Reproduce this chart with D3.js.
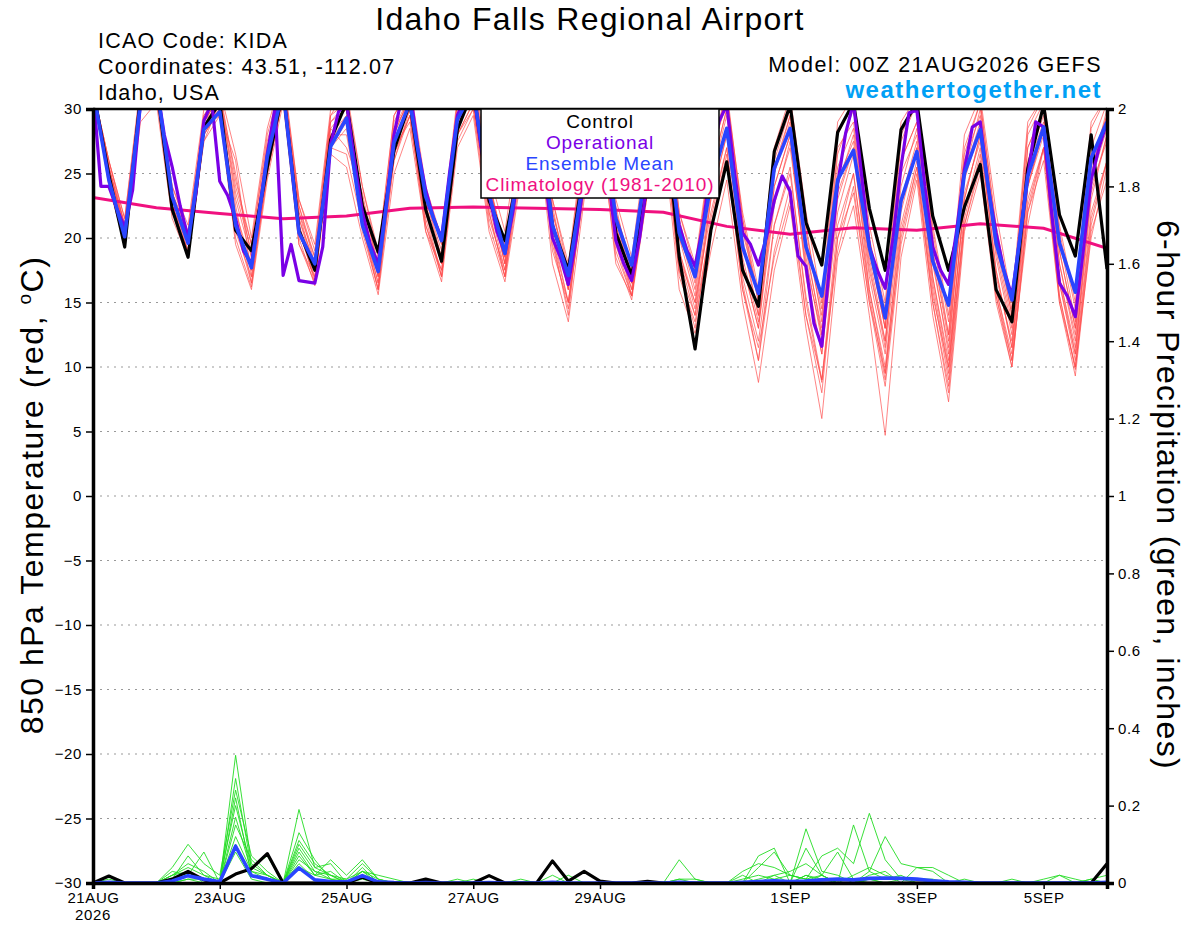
<!DOCTYPE html>
<html>
<head>
<meta charset="utf-8">
<script src="https://cdn.jsdelivr.net/npm/d3@7"></script>
<style>
  body { margin: 0; background: #fff; }
  text { font-family: "Liberation Sans", Arial, Helvetica, sans-serif; }
</style>
</head>
<body>
<svg id="chart" width="1200" height="927"></svg>
<script>
// ---- data (6-hourly from 00Z 21AUG2026, operational is 3-hourly) ----
const tempTicks = [-30, -25, -20, -15, -10, -5, 0, 5, 10, 15, 20, 25, 30];
const precipTicks = [0, 0.2, 0.4, 0.6, 0.8, 1, 1.2, 1.4, 1.6, 1.8, 2];
const dateTicks = ["2026-08-21", "2026-08-23", "2026-08-25", "2026-08-27",
                   "2026-08-29", "2026-09-01", "2026-09-03", "2026-09-05"];

const controlTemp = [
  31.5,24.9,19.3,31.0, 32.0,22.2,18.5,28.6, 30.5,20.6,19.0,25.5, 31.5,20.6,17.5,27.6,
  30.5,22.5,18.9,26.8, 30.5,22.2,18.2,28.4, 31.5,22.9,19.8,26.0, 31.0,20.9,17.5,25.5,
  31.0,20.4,17.1,24.2, 31.0,18.5,11.4,20.6, 25.9,17.5,14.7,26.7, 30.3,21.2,17.9,28.2,
  30.5,22.3,17.5,28.4, 30.5,21.7,17.5,22.4, 25.7,16.0,13.5,25.4, 30.3,21.8,18.6,28.0,
  17.6];

const meanTemp = [
  31.5,24.5,20.1,30.5, 32.0,23.2,19.6,28.4, 29.8,21.0,17.7,26.3, 31.5,20.4,18.0,27.1,
  29.3,21.0,17.4,27.4, 30.5,23.2,19.8,29.2, 31.5,23.4,18.8,26.5, 31.0,21.0,17.1,25.0,
  31.0,21.5,17.9,26.3, 31.0,20.4,17.0,24.2, 28.5,19.3,15.7,25.4, 28.5,19.3,15.5,24.5,
  26.8,19.3,13.8,22.9, 26.7,18.2,14.8,25.0, 28.4,19.6,15.2,24.8, 28.6,19.6,15.8,26.2,
  29.0];

// operational, every 3 hours
const opTemp = [
  31.5,24.0, 24.0,22.3, 20.8,23.7, 30.5,32.0, 32.0,28.0, 25.5,22.5, 20.0,23.5, 29.1,30.5,
  24.4,23.3, 21.5,19.0, 18.0,22.0, 26.5,30.2, 17.1,19.5, 16.7,16.6, 16.5,19.3, 27.3,29.8,
  30.5,26.0, 22.0,19.5, 18.0,22.5, 28.0,31.0, 31.5,27.0, 23.7,21.5, 20.0,25.0, 29.5,31.0,
  31.5,27.0, 23.4,20.5, 18.8,22.0, 26.5,30.0, 31.0,25.0, 20.0,18.5, 16.4,20.0, 24.6,29.0,
  31.0,25.0, 19.8,18.0, 16.7,20.0, 24.6,29.0, 31.0,25.0, 21.0,19.0, 17.8,21.0, 25.5,29.0,
  30.3,25.0, 20.4,19.5, 17.9,20.0, 22.9,24.8, 23.6,18.6, 17.8,13.4, 11.6,18.0, 24.2,28.1,
  30.5,25.0, 19.3,17.5, 16.1,20.0, 25.5,29.7, 29.9,24.0, 19.3,17.5, 16.4,20.5, 25.3,28.6,
  29.0,24.0, 20.4,17.5, 15.5,20.0, 24.8,29.0, 28.6,22.0, 16.5,15.5, 13.9,19.0, 24.5,27.0,
  29.0];

// climatology, once a day at 00Z
const climTemp = [23.15, 22.35, 21.9, 21.5, 21.7, 22.3, 22.4, 22.3, 22.2,
                  22.0, 20.9, 20.3, 20.8, 20.6, 21.1, 20.75, 19.2];

const memberTemps = [
  [31.5,25.5,20.5,31.5, 32.5,23.5,20.5,29.5, 31.0,24.0,19.5,27.5, 32.0,22.0,18.5,29.0,
   30.5,23.0,18.0,28.5, 31.0,23.0,19.0,30.0, 32.0,24.0,19.5,28.0, 32.0,22.0,17.0,26.0,
   31.0,22.0,17.5,27.0, 31.0,20.0,17.0,25.0, 30.0,21.0,15.0,26.0, 30.0,20.0,14.0,27.0,
   29.0,19.0,13.0,26.0, 29.0,19.0,12.0,25.0, 30.0,20.0,14.0,27.0, 30.0,19.0,13.0,25.0, 30.0],
  [31.5,25.0,21.0,30.5, 33.0,22.5,19.5,28.5, 30.5,21.0,17.5,26.0, 31.5,20.5,17.0,28.0,
   28.0,21.5,16.5,27.0, 30.0,21.0,17.5,28.5, 31.0,22.0,17.0,27.0, 31.5,20.5,15.0,25.0,
   30.5,20.0,16.0,25.5, 30.5,19.0,14.5,23.0, 28.0,18.0,13.0,24.0, 28.0,17.0,11.0,23.0,
   27.0,16.0,9.5,22.0, 27.0,17.0,10.0,23.0, 28.0,17.0,12.0,24.0, 28.5,17.0,11.0,23.0, 28.0],
  [31.5,26.0,21.5,32.0, 32.0,24.0,21.0,30.0, 31.5,26.5,20.0,28.5, 33.0,23.0,19.5,30.0,
   31.0,24.0,19.0,29.5, 32.0,24.0,20.0,31.0, 33.0,25.0,20.5,29.0, 33.0,23.0,18.0,28.0,
   33.0,23.0,18.5,28.0, 33.0,22.0,18.0,27.0, 31.0,22.0,16.0,27.0, 31.0,22.0,15.0,29.0,
   31.0,21.0,15.0,29.0, 31.0,21.0,14.0,28.0, 31.0,22.0,15.0,29.0, 31.0,21.0,15.0,29.0, 31.0],
  [31.5,24.0,19.5,29.0, 30.5,21.5,18.5,27.5, 29.5,19.5,16.0,24.5, 30.5,19.5,16.5,26.5,
   25.5,20.0,15.6,25.0, 28.5,20.5,16.6,27.0, 29.5,20.5,16.6,24.5, 29.5,18.0,13.5,23.0,
   28.5,18.5,15.2,23.5, 28.0,16.0,12.6,19.0, 24.5,15.0,8.8,17.5, 22.5,13.0,6.0,18.5,
   22.5,14.0,4.7,18.5, 24.5,14.0,7.3,20.5, 25.0,15.0,10.0,22.0, 26.0,15.0,9.3,20.5, 24.5],
  [31.5,25.0,20.0,30.0, 31.5,22.0,19.0,28.0, 30.0,22.5,16.5,25.0, 31.0,21.0,16.5,27.0,
   29.0,22.5,17.0,26.5, 29.5,22.0,18.0,29.0, 31.5,23.0,18.0,26.0, 30.5,21.0,16.0,24.5,
   29.5,21.0,16.5,26.0, 29.5,18.5,15.0,22.0, 27.0,17.0,12.0,21.0, 25.0,15.5,9.0,21.0,
   25.0,16.0,10.0,21.0, 26.0,16.0,9.0,22.0, 27.0,16.0,11.0,23.0, 27.0,16.5,10.5,22.0, 26.0],
  [31.5,26.0,21.0,31.0, 32.0,23.0,20.0,29.0, 31.0,25.0,18.5,27.0, 32.0,22.5,18.0,28.5,
   27.0,23.5,17.5,28.5, 30.5,22.5,18.5,29.5, 32.5,24.5,18.5,28.5, 32.5,22.5,16.5,27.0,
   32.0,22.5,17.0,27.5, 32.0,21.5,16.5,26.0, 31.0,21.5,15.5,25.5, 29.5,21.0,13.5,26.5,
   30.0,20.0,13.0,27.5, 30.5,20.0,12.5,27.0, 30.5,21.0,14.5,28.0, 30.5,20.0,13.5,27.0, 30.5],
  [31.5,24.5,20.0,30.5, 33.0,23.0,19.5,28.5, 30.0,20.0,16.2,25.5, 31.0,20.0,16.3,27.5,
   29.5,20.5,16.0,27.0, 29.0,21.5,17.0,28.0, 30.5,21.5,17.5,25.5, 31.0,19.5,14.5,24.0,
   30.0,19.0,15.5,24.0, 29.0,17.0,13.5,20.5, 26.0,16.0,10.5,19.0, 24.0,14.0,8.0,20.0,
   23.5,15.0,8.5,19.5, 25.0,15.0,8.0,21.0, 26.0,15.5,10.5,22.5, 27.0,15.5,10.0,21.5, 26.0],
  [31.5,25.5,21.0,31.0, 32.0,24.0,20.5,29.0, 31.0,23.5,19.0,27.0, 32.5,22.5,18.5,29.5,
   30.5,22.0,17.5,29.0, 31.5,23.5,19.5,30.5, 32.0,24.5,19.0,28.0, 32.0,22.0,17.5,27.0,
   32.0,22.0,18.0,27.0, 32.0,22.0,17.5,26.5, 30.5,20.5,15.5,25.0, 29.5,19.5,12.5,24.0,
   28.0,18.5,12.0,24.0, 28.5,18.5,11.0,25.0, 29.0,19.0,13.0,26.0, 29.5,18.0,12.5,25.5, 29.5],
  [31.5,25.0,20.5,31.0, 32.0,22.5,19.5,28.5, 29.5,26.0,17.0,26.0, 31.5,21.5,17.5,28.0,
   29.5,21.0,16.5,26.0, 30.0,22.0,17.0,28.0, 30.0,22.5,17.5,27.0, 31.0,20.0,14.0,25.0,
   30.0,20.5,15.5,25.0, 30.0,18.5,14.0,23.0, 28.0,18.0,13.0,22.5, 27.5,17.5,11.0,22.0,
   26.5,17.0,11.0,22.5, 27.0,16.5,9.5,23.5, 27.5,17.5,11.5,24.0, 28.0,16.5,11.0,24.0, 27.5],
  [31.5,26.0,21.5,31.5, 32.5,23.5,20.0,29.5, 31.5,24.5,19.5,28.0, 32.5,23.0,19.0,29.5,
   31.5,24.0,18.5,29.5, 31.5,23.5,19.5,30.5, 32.5,24.0,19.0,28.5, 32.5,23.0,17.5,27.5,
   32.5,21.5,17.0,27.5, 32.5,21.0,17.5,26.5, 31.5,21.5,15.0,26.5, 30.5,20.5,14.5,28.0,
   30.5,20.0,14.5,28.0, 30.5,20.5,13.5,26.5, 30.5,20.5,14.0,28.5, 31.0,20.5,14.5,28.5, 31.0],
  [31.5,24.5,20.0,30.0, 31.0,22.0,19.0,27.5, 30.5,20.5,17.0,25.0, 31.0,19.5,17.0,27.0,
   26.5,21.0,16.0,26.0, 29.5,20.5,17.5,27.5, 30.0,21.0,17.0,25.0, 30.0,19.0,15.0,23.5,
   29.0,18.0,15.5,23.5, 28.5,17.5,14.0,21.0, 26.5,16.0,11.5,18.5, 23.0,14.0,9.0,19.0,
   24.0,15.0,9.5,20.0, 25.5,15.5,10.0,21.0, 25.5,16.0,10.5,21.0, 27.0,15.0,10.0,20.0, 25.5],
  [31.5,25.5,21.0,31.0, 32.5,23.0,20.0,29.0, 30.5,22.0,18.0,26.5, 31.5,22.0,17.5,28.5,
   30.0,23.0,17.5,28.0, 31.0,22.5,18.0,29.0, 31.0,23.0,18.5,27.0, 31.5,21.5,16.0,26.0,
   31.0,21.0,16.5,26.0, 31.0,20.0,15.5,24.5, 29.5,19.5,14.0,24.0, 28.0,18.5,12.0,24.5,
   27.5,18.0,11.5,25.0, 28.0,18.0,11.5,24.5, 28.5,18.5,12.5,25.5, 29.0,18.0,12.0,24.5, 28.5],
  [31.5,25.0,20.5,30.5, 32.0,23.0,19.0,28.0, 30.0,21.5,17.5,25.5, 31.5,21.0,17.5,27.5,
   29.0,22.0,17.0,27.5, 30.5,22.0,18.0,29.0, 31.0,23.5,18.0,27.5, 31.5,21.0,16.5,25.5,
   30.5,20.5,16.0,25.0, 30.5,19.0,15.0,23.5, 28.5,18.5,13.5,23.0, 27.0,18.0,12.5,23.5,
   27.0,17.5,12.0,23.0, 27.5,17.0,10.5,23.0, 28.0,17.5,11.5,24.0, 28.5,17.0,11.5,23.5, 28.0],
  [31.5,25.5,20.5,31.0, 32.5,23.5,20.0,29.0, 31.0,23.0,18.5,27.0, 32.0,21.5,18.0,29.0,
   30.0,22.5,17.0,28.0, 31.0,23.0,18.5,29.5, 32.0,23.5,18.0,27.5, 32.0,21.5,16.0,26.5,
   31.5,21.5,16.5,26.5, 31.5,20.5,16.0,25.0, 30.0,20.0,14.0,25.0, 29.0,19.0,13.0,25.5,
   28.5,19.0,13.0,26.0, 29.0,19.0,12.5,26.0, 29.5,19.5,13.5,27.0, 30.0,19.0,13.0,26.0, 29.5],
  [31.5,24.5,19.5,30.0, 31.5,22.5,19.0,28.0, 30.0,21.0,16.5,25.0, 31.0,20.5,16.8,27.0,
   28.5,21.0,16.0,26.5, 29.5,21.0,17.0,28.0, 30.5,22.0,17.0,26.0, 30.5,20.0,15.0,24.0,
   29.5,19.5,15.5,24.0, 29.0,17.5,13.0,21.5, 27.0,16.5,10.5,21.0, 25.5,15.0,8.8,20.0,
   25.0,15.5,9.0,20.5, 25.5,15.0,8.5,21.5, 26.5,15.5,10.0,22.0, 27.0,15.5,9.8,21.0, 26.0]
];

const controlPrecip = [
  0,0.018,0,0, 0,0.01,0.03,0.008, 0,0.023,0.037,0.076, 0,0,0,0,
  0,0.015,0,0, 0,0.01,0,0, 0,0.019,0,0, 0,0.057,0.005,0.03,
  0.005,0,0,0.004, 0,0,0,0, 0,0,0,0, 0,0,0,0,
  0,0,0,0, 0,0,0,0, 0,0,0,0, 0,0,0,0,
  0.05];

const meanPrecip = [
  0,0.002,0,0, 0,0.005,0.019,0.01, 0.003,0.095,0.019,0.01, 0,0.039,0.008,0.004,
  0.003,0.019,0.003,0.001, 0,0.001,0,0, 0,0.001,0,0, 0,0.002,0,0,
  0,0,0,0, 0,0.002,0,0, 0,0.002,0.004,0.006, 0.004,0.005,0.008,0.01,
  0.008,0.012,0.013,0.012, 0.01,0.006,0.003,0.002, 0,0,0,0, 0,0,0,0,
  0.002];

const memberPrecip = [
  [0,0,0,0, 0,0.02,0.05,0.03, 0,0.33,0.05,0.02, 0,0.08,0.02,0.01,
   0,0.02,0,0, 0,0,0,0, 0,0,0,0, 0,0,0,0,
   0,0,0,0, 0,0.01,0,0, 0,0,0,0.02, 0,0.14,0.03,0.02,
   0,0.01,0,0, 0,0,0,0, 0,0,0,0, 0,0,0,0, 0],
  [0,0,0,0, 0,0.04,0.1,0.05, 0.02,0.24,0.07,0.03, 0,0.19,0.04,0.02,
   0.01,0.05,0.01,0, 0,0,0,0.01, 0,0,0,0, 0,0,0,0,
   0,0,0,0, 0,0,0,0, 0,0,0.04,0.08, 0.02,0.01,0.07,0.09,
   0.05,0.18,0.06,0.01, 0.01,0,0,0, 0,0,0,0, 0,0,0,0.01, 0],
  [0,0.01,0,0, 0,0.01,0.07,0.02, 0.01,0.2,0.04,0.07, 0,0.13,0.06,0.01,
   0.01,0.03,0,0, 0,0,0,0, 0.01,0,0,0, 0,0,0.02,0,
   0,0,0,0, 0,0.06,0.01,0, 0,0.02,0,0, 0,0.02,0.01,0,
   0.15,0.03,0.01,0.02, 0,0,0,0, 0,0,0,0, 0,0,0,0, 0],
  [0,0,0,0, 0,0.03,0.02,0.08, 0,0.17,0.03,0.02, 0,0.1,0.04,0.05,
   0,0.02,0,0, 0,0.01,0,0, 0,0,0,0, 0,0,0,0,
   0,0,0,0, 0,0,0,0, 0,0.03,0.05,0.04, 0.02,0.01,0,0,
   0,0.03,0.12,0.05, 0.04,0.04,0.02,0, 0,0,0,0, 0,0,0,0, 0],
  [0,0,0,0, 0,0.01,0.03,0.01, 0,0.15,0.06,0.02, 0,0.07,0.02,0.06,
   0.02,0.06,0.01,0, 0,0,0,0, 0,0,0,0, 0,0,0,0,
   0,0,0,0, 0,0,0,0, 0,0,0,0, 0,0,0,0,
   0,0,0,0.01, 0,0,0,0, 0,0,0.01,0, 0.01,0.02,0.01,0, 0],
  [0,0,0,0, 0,0.02,0.04,0.02, 0,0.12,0.03,0.01, 0,0.06,0.03,0.02,
   0,0.03,0.02,0.01, 0,0,0,0, 0,0,0,0, 0,0.02,0,0,
   0,0,0,0, 0,0,0,0, 0,0,0,0, 0,0.09,0.02,0,
   0,0.02,0.03,0, 0.04,0.03,0,0, 0,0,0,0, 0,0,0,0, 0],
  [0,0,0,0, 0,0,0.01,0, 0,0.1,0.02,0.01, 0,0.05,0.01,0,
   0,0.01,0,0, 0,0,0,0, 0,0,0,0, 0,0,0,0,
   0,0,0,0, 0,0,0,0, 0,0,0.07,0.09, 0,0.02,0,0,
   0,0,0,0, 0,0,0,0, 0,0,0,0, 0,0.02,0,0.01, 0.02],
  [0,0,0,0, 0,0.01,0.02,0.01, 0,0.08,0.01,0, 0,0.04,0.02,0.03,
   0,0.02,0,0, 0,0,0,0, 0,0,0,0, 0,0,0,0,
   0,0,0,0, 0,0.01,0.01,0, 0,0.01,0.02,0.01, 0.02,0.01,0.02,0,
   0.02,0.04,0.02,0.01, 0.01,0.01,0,0.01, 0,0,0,0, 0,0,0,0, 0],
  [0,0,0,0, 0,0,0.01,0.01, 0,0.27,0.04,0.02, 0,0.09,0.03,0.01,
   0,0.03,0.01,0, 0,0,0,0, 0,0,0,0.01, 0,0,0,0,
   0,0,0,0, 0,0,0,0, 0,0,0,0, 0,0,0.02,0.08,
   0.01,0,0,0, 0,0,0,0, 0,0,0,0, 0,0,0,0, 0],
  [0,0,0,0, 0,0.02,0.03,0, 0,0.22,0.02,0.01, 0,0.11,0.05,0.02,
   0,0.04,0,0, 0,0,0,0, 0,0,0,0, 0,0,0,0,
   0,0,0,0, 0,0,0,0, 0,0,0.01,0.02, 0.03,0.05,0.02,0,
   0,0.01,0,0, 0,0,0,0, 0,0,0,0, 0,0,0,0, 0]
];

// ---- layout ----
const plotL = 93, plotR = 1107, plotT = 109, plotB = 883;
const svg = d3.select("#chart");

const base = Date.UTC(2026, 7, 21);
const hourToDate = h => new Date(base + h * 3600e3);
const x = d3.scaleUtc().domain([hourToDate(0), hourToDate(384)]).range([plotL, plotR]);
const yT = d3.scaleLinear().domain([-30, 30]).range([plotB, plotT]);
const yP = d3.scaleLinear().domain([0, 2]).range([plotB, plotT]);

svg.append("defs").append("clipPath").attr("id", "plotclip")
  .append("rect").attr("x", plotL).attr("y", plotT)
  .attr("width", plotR - plotL).attr("height", plotB - plotT);

// dotted grid at the temperature ticks
svg.append("g").selectAll("line")
  .data(tempTicks.filter(d => d > -30 && d < 30))
  .join("line")
  .attr("x1", plotL).attr("x2", plotR)
  .attr("y1", d => yT(d)).attr("y2", d => yT(d))
  .attr("stroke", "#999").attr("stroke-width", 1)
  .attr("stroke-dasharray", "2,5");

const plot = svg.append("g").attr("clip-path", "url(#plotclip)");

const lineT = step => d3.line()
  .x((d, i) => x(hourToDate(i * step)))
  .y(d => yT(d));
const lineP = d3.line()
  .x((d, i) => x(hourToDate(i * 6)))
  .y(d => yP(d));

// ensemble members
plot.append("g").selectAll("path").data(memberTemps).join("path")
  .attr("d", lineT(6)).attr("fill", "none")
  .attr("stroke", "#ff4a4a").attr("stroke-width", 0.8).attr("stroke-opacity", 0.85);

plot.append("g").selectAll("path").data(memberPrecip).join("path")
  .attr("d", lineP).attr("fill", "none")
  .attr("stroke", "#22dd22").attr("stroke-width", 0.9);

// climatology
plot.append("path").datum(climTemp)
  .attr("d", lineT(24)).attr("fill", "none")
  .attr("stroke", "#f0107f").attr("stroke-width", 3);

// control
plot.append("path").datum(controlTemp)
  .attr("d", lineT(6)).attr("fill", "none")
  .attr("stroke", "#000").attr("stroke-width", 3.2).attr("stroke-linejoin", "round");
plot.append("path").datum(controlPrecip)
  .attr("d", lineP).attr("fill", "none")
  .attr("stroke", "#000").attr("stroke-width", 3.2).attr("stroke-linejoin", "round");

// operational
plot.append("path").datum(opTemp)
  .attr("d", lineT(3)).attr("fill", "none")
  .attr("stroke", "#7a00e6").attr("stroke-width", 3.2).attr("stroke-linejoin", "round");

// ensemble mean
plot.append("path").datum(meanTemp)
  .attr("d", lineT(6)).attr("fill", "none")
  .attr("stroke", "#2a45ff").attr("stroke-width", 3.6).attr("stroke-linejoin", "round");
plot.append("path").datum(meanPrecip)
  .attr("d", lineP).attr("fill", "none")
  .attr("stroke", "#2a45ff").attr("stroke-width", 3.6).attr("stroke-linejoin", "round");

// ---- axes ----
const fmtDay = d3.utcFormat("%-d%b");
const axisL = svg.append("g").attr("transform", `translate(${plotL},0)`)
  .call(d3.axisLeft(yT).tickValues(tempTicks).tickSize(7).tickPadding(4));
const axisR = svg.append("g").attr("transform", `translate(${plotR},0)`)
  .call(d3.axisRight(yP).tickValues(precipTicks).tickSize(7).tickPadding(4)
    .tickFormat(d3.format("~g")));
const axisB = svg.append("g").attr("transform", `translate(0,${plotB})`)
  .call(d3.axisBottom(x).tickValues(dateTicks.map(s => new Date(s + "T00:00:00Z")))
    .tickSize(6).tickPadding(3).tickFormat(d => fmtDay(d).toUpperCase()));

[axisL, axisR, axisB].forEach(g => {
  g.selectAll("text").attr("font-size", 15).attr("fill", "#000")
    .attr("letter-spacing", 0.6)
    .attr("font-family", '"Liberation Sans", Arial, sans-serif');
  g.selectAll(".tick line").attr("stroke", "#000").attr("stroke-width", 1.5);
  g.select(".domain").attr("stroke", "#000").attr("stroke-width", 3.5);
});

svg.append("line").attr("x1", plotL).attr("x2", plotR).attr("y1", plotT).attr("y2", plotT)
  .attr("stroke", "#000").attr("stroke-width", 2.5);

svg.append("text").attr("x", x(hourToDate(0))).attr("y", 920)
  .attr("text-anchor", "middle").attr("font-size", 15).attr("letter-spacing", 0.6)
  .text("2026");

// ---- titles ----
svg.append("text").attr("x", 590).attr("y", 30).attr("text-anchor", "middle")
  .attr("font-size", 32).attr("letter-spacing", 1.3).text("Idaho Falls Regional Airport");

const info = ["ICAO Code: KIDA", "Coordinates: 43.51, -112.07", "Idaho, USA"];
svg.append("g").selectAll("text").data(info).join("text")
  .attr("x", 98).attr("y", (d, i) => 48 + i * 26)
  .attr("font-size", 21.5).attr("letter-spacing", 1.2).text(d => d);

svg.append("text").attr("x", 1102).attr("y", 72).attr("text-anchor", "end")
  .attr("font-size", 21.5).attr("letter-spacing", 1.5).text("Model: 00Z 21AUG2026 GEFS");
svg.append("text").attr("x", 1102).attr("y", 98).attr("text-anchor", "end")
  .attr("font-size", 24).attr("letter-spacing", 1.5)
  .attr("font-weight", "bold").attr("fill", "#00a0f5")
  .text("weathertogether.net");

const yTitle = svg.append("text")
  .attr("transform", "translate(43,495) rotate(-90)")
  .attr("text-anchor", "middle").attr("font-size", 32).attr("letter-spacing", 1.5);
yTitle.append("tspan").text("850 hPa Temperature (red, ");
yTitle.append("tspan").attr("font-size", 19).attr("dy", -12).text("o");
yTitle.append("tspan").attr("dy", 12).text("C)");

svg.append("text")
  .attr("transform", "translate(1157,495) rotate(90)")
  .attr("text-anchor", "middle").attr("font-size", 32).attr("letter-spacing", 1.4)
  .text("6-hour Precipitation (green, inches)");

// ---- legend ----
const legendItems = [
  { label: "Control", color: "#000" },
  { label: "Operational", color: "#7a00e6" },
  { label: "Ensemble Mean", color: "#2a45ff" },
  { label: "Climatology (1981-2010)", color: "#f0107f" }
];
const lg = svg.append("g");
lg.append("rect").attr("x", 481).attr("y", 109).attr("width", 238).attr("height", 89)
  .attr("fill", "#fff").attr("stroke", "#000").attr("stroke-width", 1.5);
lg.selectAll("text").data(legendItems).join("text")
  .attr("x", 600).attr("y", (d, i) => 127.5 + i * 21.3)
  .attr("text-anchor", "middle").attr("font-size", 19).attr("letter-spacing", 0.9)
  .attr("fill", d => d.color).text(d => d.label);
</script>
</body>
</html>
